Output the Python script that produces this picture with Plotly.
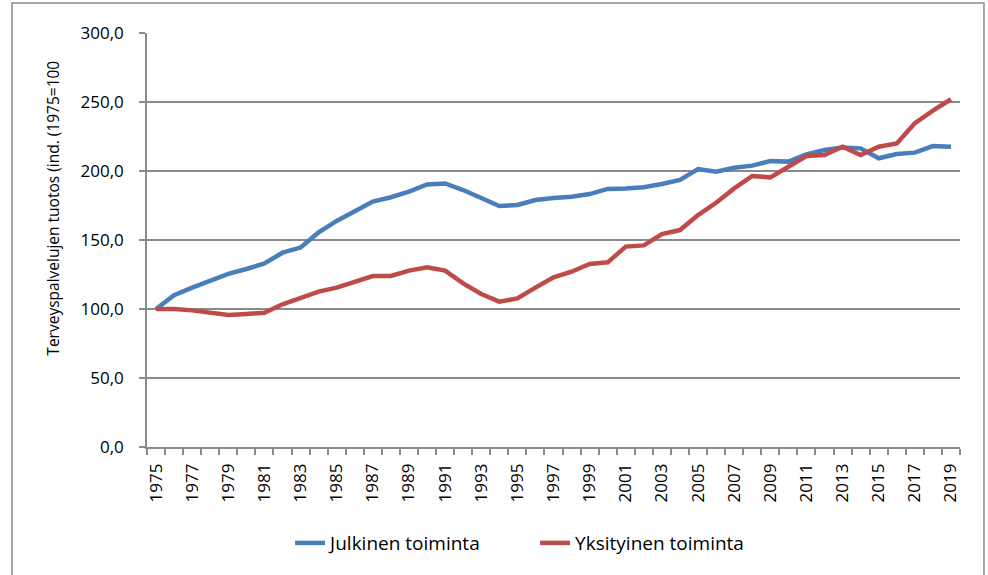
import plotly.graph_objects as go

years = list(range(1975, 2020))
julkinen = [100.0, 110.0, 115.5, 120.5, 125.4, 129.0, 133.0, 140.8, 144.5, 155.5,
            163.8, 170.8, 177.8, 181.0, 185.0, 190.3, 191.0, 186.2, 180.2, 174.6,
            175.4, 179.0, 180.5, 181.4, 183.3, 187.0, 187.4, 188.2, 190.6, 193.5,
            201.4, 199.5, 202.4, 203.9, 207.2, 206.8, 212.1, 215.2, 217.1, 216.4,
            209.2, 212.3, 213.3, 218.1, 217.6]
yksityinen = [100.0, 100.0, 99.0, 96.9, 95.6, 96.4, 97.3, 103.4, 107.7, 112.6,
              115.5, 119.6, 123.9, 124.0, 127.8, 130.2, 127.8, 118.6, 110.9, 105.3,
              107.7, 115.5, 123.0, 127.0, 132.6, 133.8, 145.2, 146.1, 154.3, 157.2,
              168.1, 177.0, 187.4, 196.4, 195.4, 203.1, 210.9, 211.6, 217.6, 211.6,
              217.6, 220.0, 234.6, 243.7, 252.0]
tick_years = list(range(1975, 2020, 2))
y_ticks = [0, 50, 100, 150, 200, 250, 300]

FONT = "'Open Sans', sans-serif"
GRID = "#8a8a8a"

fig = go.Figure()
fig.add_trace(go.Scatter(x=years, y=julkinen, mode="lines", name="Julkinen toiminta",
                         line=dict(color="#4A7EBB", width=4.5)))
fig.add_trace(go.Scatter(x=years, y=yksityinen, mode="lines", name="Yksityinen toiminta",
                         line=dict(color="#BE4B48", width=4.5)))

fig.update_layout(
    width=988, height=575,
    margin=dict(l=147, r=28, t=33, b=128),
    paper_bgcolor="white", plot_bgcolor="white",
    separators=", ",
    font=dict(family=FONT, size=16, color="#000000"),
    showlegend=True,
    legend=dict(orientation="h", x=0.176, xanchor="left", y=-0.232, yanchor="middle",
                font=dict(size=19), tracegroupgap=0, entrywidth=200, entrywidthmode="pixels"),
    xaxis=dict(
        range=[1974.5, 2019.5], tickmode="array", tickvals=tick_years,
        ticktext=[str(y) for y in tick_years], tickangle=-90, ticks="",
        showgrid=False, zeroline=False, showline=True, linecolor=GRID, linewidth=1.5,
        tickfont=dict(size=17), ticklabelstandoff=8,
        minor=dict(tick0=1974.5, dtick=1, ticks="outside", ticklen=6, tickcolor=GRID,
                   tickwidth=1.5, showgrid=False),
    ),
    yaxis=dict(
        range=[0, 300], tickmode="array", tickvals=y_ticks, tickformat=".1f",
        ticks="outside", ticklen=6, tickcolor=GRID, tickwidth=1.5,
        showgrid=True, gridcolor=GRID, gridwidth=1.5, zeroline=False,
        showline=True, linecolor=GRID, linewidth=1.5, tickfont=dict(size=17),
        ticklabelstandoff=12,
    ),
    annotations=[dict(text="Terveyspalvelujen tuotos (ind. (1975=100", xref="paper", yref="paper",
                      x=-0.115, y=0.577, textangle=-90, showarrow=False,
                      xanchor="center", yanchor="middle", font=dict(size=15.5))],
    shapes=[dict(type="rect", xref="paper", yref="paper", x0=-0.166, x1=1.0295,
                 y0=-0.33, y1=1.0725, line=dict(color=GRID, width=1.5))],
)

fig.write_html("out.html", config={"displayModeBar": False},
               post_script="document.body.style.margin='0';")
